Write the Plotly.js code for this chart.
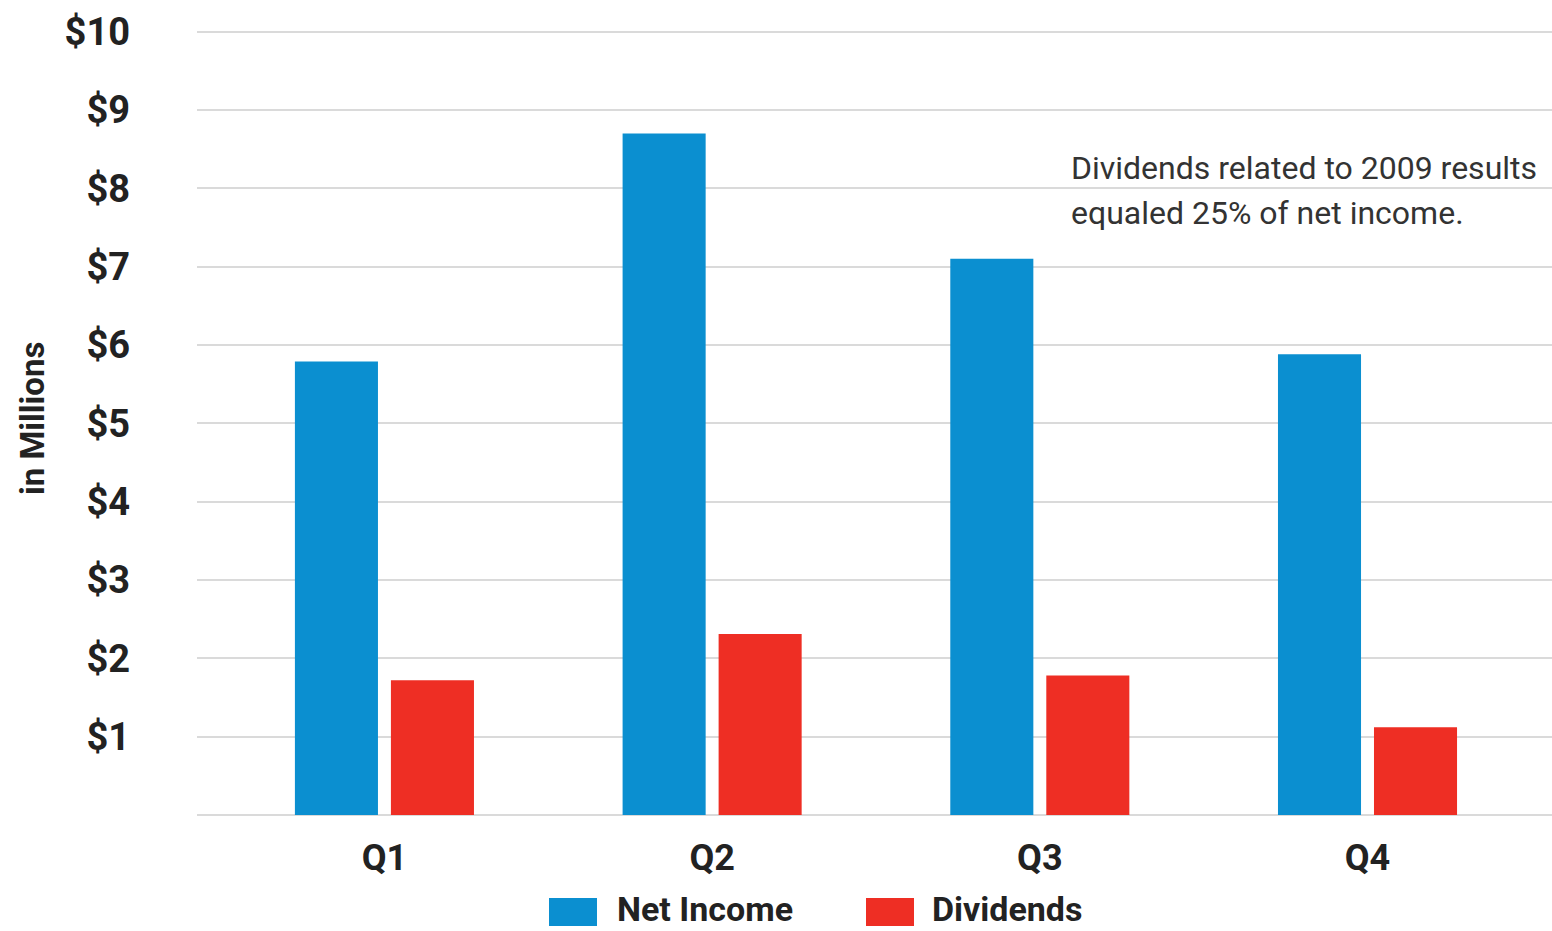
<!DOCTYPE html>
<html>
<head>
<meta charset="utf-8">
<script src="https://cdn.plot.ly/plotly-3.0.1.min.js"></script>
<style>
  html, body { margin: 0; padding: 0; background: #ffffff; }
  #chart { width: 1552px; height: 931px; }
</style>
</head>
<body>
<div id="chart"></div>
<script>
// Quarterly results, in millions of dollars
const quarters = ['Q1', 'Q2', 'Q3', 'Q4'];
const netIncome = [5.79, 8.70, 7.10, 5.88];
const dividends = [1.72, 2.31, 1.78, 1.12];

const yTickValues = [1, 2, 3, 4, 5, 6, 7, 8, 9, 10];
const yTickLabels = ['$1', '$2', '$3', '$4', '$5', '$6', '$7', '$8', '$9', '$10'];

const seriesNames = ['Net Income', 'Dividends'];
const noteLines = ['Dividends related to 2009 results', 'equaled 25% of net income.'];

const BLUE = '#0b8fd0';
const RED = '#ee2e24';
const GRID = '#dadada';
const FONT = 'Roboto, "Liberation Sans", Arial, sans-serif';

// plot-area geometry (px)
const W = 1552, H = 931;
const M = { l: 197, r: 0, t: 30, b: 116 };
const plotW = W - M.l - M.r;
const plotH = H - M.t - M.b;
const px = x => (x - M.l) / plotW;          // page x -> paper x
const py = y => (H - M.b - y) / plotH;      // page y -> paper y

const traces = [
  {
    type: 'bar', name: seriesNames[0], x: quarters, y: netIncome,
    marker: { color: BLUE }, hoverinfo: 'x+y'
  },
  {
    type: 'bar', name: seriesNames[1], x: quarters, y: dividends,
    marker: { color: RED }, hoverinfo: 'x+y'
  }
];

// legend built from shapes + annotations so the swatches can be wide
const legendItems = [
  { swatch: [549, 597], textX: 615, color: BLUE, label: seriesNames[0] },
  { swatch: [866, 914], textX: 930, color: RED, label: seriesNames[1] }
];

const shapes = legendItems.map(it => ({
  type: 'rect', xref: 'paper', yref: 'paper',
  x0: px(it.swatch[0]), x1: px(it.swatch[1]),
  y0: py(926), y1: py(898),
  fillcolor: it.color, line: { width: 0 }
}));

// note lines placed one by one to get the wider line spacing
const noteY = [168, 213];

const annotations = [
  {
    xref: 'paper', yref: 'paper', x: px(32), y: py(419),
    text: 'in Millions', textangle: -90, showarrow: false,
    xanchor: 'center', yanchor: 'middle',
    font: { family: FONT, size: 33, color: '#222222', weight: 'bold' }
  }
].concat(noteLines.map((line, i) => ({
  xref: 'paper', yref: 'paper', x: px(1069), y: py(noteY[i]),
  text: line, showarrow: false, align: 'left',
  xanchor: 'left', yanchor: 'middle',
  font: { family: FONT, size: 32, color: '#333333' }
}))).concat(legendItems.map(it => ({
  xref: 'paper', yref: 'paper', x: px(it.textX), y: py(909),
  text: it.label, showarrow: false, xanchor: 'left', yanchor: 'middle',
  font: { family: FONT, size: 34, color: '#222222', weight: 'bold' }
})));

const layout = {
  width: W, height: H,
  margin: M,
  paper_bgcolor: '#ffffff', plot_bgcolor: '#ffffff',
  showlegend: false,
  barmode: 'group',
  bargap: 0.414,
  bargroupgap: 0.135,
  font: { family: FONT },
  xaxis: {
    type: 'category',
    range: [-0.572, 3.563],
    showgrid: false, zeroline: false, showline: false,
    ticks: '', ticklabelstandoff: 18,
    tickfont: { family: FONT, size: 36, color: '#222222', weight: 'bold' },
    fixedrange: true
  },
  yaxis: {
    range: [0, 10.02],
    tickvals: yTickValues, ticktext: yTickLabels,
    showgrid: true, gridcolor: GRID, gridwidth: 2,
    zeroline: true, zerolinecolor: GRID, zerolinewidth: 2,
    showline: false, ticks: '', ticklabelstandoff: 66,
    tickfont: { family: FONT, size: 38, color: '#222222', weight: 'bold' },
    fixedrange: true
  },
  shapes: shapes,
  annotations: annotations
};

Plotly.newPlot('chart', traces, layout, { displayModeBar: false, staticPlot: true });
</script>
</body>
</html>
